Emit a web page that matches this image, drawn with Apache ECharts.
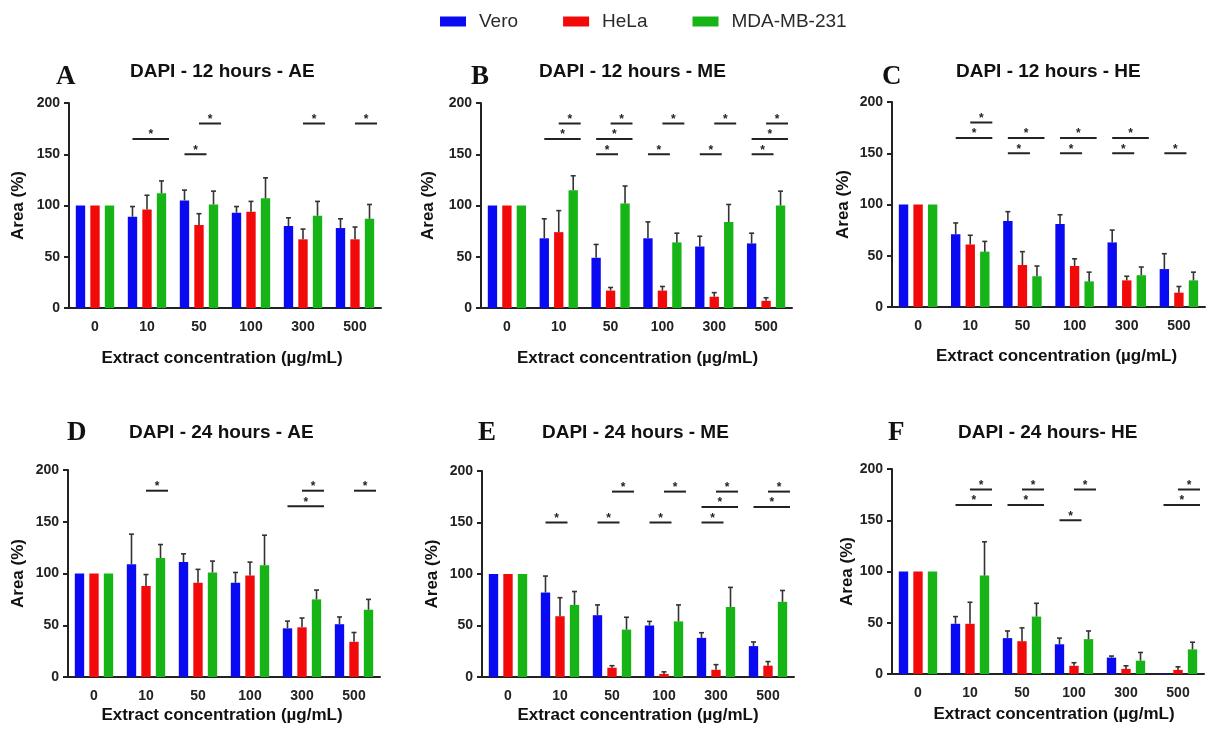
<!DOCTYPE html>
<html>
<head>
<meta charset="utf-8">
<title>DAPI area</title>
<script src="https://cdn.jsdelivr.net/npm/echarts@6/dist/echarts.min.js"></script>
<style>
html, body { margin: 0; padding: 0; background: #fff; }
#main { width: 1206px; height: 733px; }
</style>
</head>
<body>
<div id="main"></div>
<script>
// categories (extract concentration, µg/mL)
var concentrations = ['0', '10', '50', '100', '300', '500'];
var cellLines = ['Vero', 'HeLa', 'MDA-MB-231'];

// A - 12 h AE
var veroA = [100, 89, 105, 93, 80, 78];
var veroA_sd = [0, 10, 10, 6, 8, 9];
var helaA = [100, 96, 81, 94, 67, 67];
var helaA_sd = [0, 14, 11, 10, 10, 12];
var mdaA = [100, 112, 101, 107, 90, 87];
var mdaA_sd = [0, 12, 13, 20, 14, 14];

// B - 12 h ME
var veroB = [100, 68, 49, 68, 60, 63];
var veroB_sd = [0, 19, 13, 16, 10, 10];
var helaB = [100, 74, 17, 17, 11, 7];
var helaB_sd = [0, 21, 3, 4, 4, 3];
var mdaB = [100, 115, 102, 64, 84, 100];
var mdaB_sd = [0, 14, 17, 9, 17, 14];

// C - 12 h HE
var veroC = [100, 71, 84, 81, 63, 37];
var veroC_sd = [0, 11, 9, 9, 12, 15];
var helaC = [100, 61, 41, 40, 26, 14];
var helaC_sd = [0, 9, 13, 7, 4, 6];
var mdaC = [100, 54, 30, 25, 31, 26];
var mdaC_sd = [0, 10, 10, 9, 8, 8];

// D - 24 h AE
var veroD = [100, 109, 111, 91, 47, 51];
var veroD_sd = [0, 29, 8, 10, 7, 7];
var helaD = [100, 88, 91, 98, 48, 34];
var helaD_sd = [0, 11, 13, 13, 9, 9];
var mdaD = [100, 115, 101, 108, 75, 65];
var mdaD_sd = [0, 13, 11, 29, 9, 10];

// E - 24 h ME
var veroE = [100, 82, 60, 50, 38, 30];
var veroE_sd = [0, 16, 10, 4, 5, 4];
var helaE = [100, 59, 9, 3, 7, 11];
var helaE_sd = [0, 18, 2, 2, 5, 4];
var mdaE = [100, 70, 46, 54, 68, 73];
var mdaE_sd = [0, 13, 12, 16, 19, 11];

// F - 24 h HE
var veroF = [100, 49, 35, 29, 16, 0.5];
var veroF_sd = [0, 7, 7, 6, 1.5, 0];
var helaF = [100, 49, 32, 8, 5, 4];
var helaF_sd = [0, 21, 13, 3, 3, 3];
var mdaF = [100, 96, 56, 34, 13, 24];
var mdaF_sd = [0, 33, 13, 8, 8, 7];

// significance bars: [category index, from bar, to bar, height]
// bar 0 = Vero, 1 = HeLa, 2 = MDA-MB-231
var sigA = [[1, 0, 2, 165], [2, 0, 1, 150], [2, 1, 2, 180], [4, 1, 2, 180], [5, 1, 2, 180]];
var sigB = [[1, 1, 2, 180], [1, 0, 2, 165], [2, 1, 2, 180], [2, 0, 2, 165], [2, 0, 1, 150],
            [3, 1, 2, 180], [3, 0, 1, 150], [4, 1, 2, 180], [4, 0, 1, 150],
            [5, 1, 2, 180], [5, 0, 2, 165], [5, 0, 1, 150]];
var sigC = [[1, 1, 2, 180], [1, 0, 2, 165], [2, 0, 2, 165], [2, 0, 1, 150], [3, 0, 2, 165],
            [3, 0, 1, 150], [4, 0, 2, 165], [4, 0, 1, 150], [5, 0, 1, 150]];
var sigD = [[1, 1, 2, 180], [4, 1, 2, 180], [4, 0, 2, 165], [5, 1, 2, 180]];
var sigE = [[1, 0, 1, 150], [2, 1, 2, 180], [2, 0, 1, 150], [3, 1, 2, 180], [3, 0, 1, 150],
            [4, 1, 2, 180], [4, 0, 2, 165], [4, 0, 1, 150], [5, 1, 2, 180], [5, 0, 2, 165]];
var sigF = [[1, 1, 2, 180], [1, 0, 2, 165], [2, 1, 2, 180], [2, 0, 2, 165], [3, 1, 2, 180],
            [3, 0, 1, 150], [5, 1, 2, 180], [5, 0, 2, 165]];

var colors = ['#0a0af2', '#f20a0a', '#16b416'];
var BAR_W = 0.18, BAR_GAP = 0.55;
var FONT = '"Liberation Sans", Arial, sans-serif';

// panel layout (title positions already corrected for the 5px title padding)
var panels = [
  { letter: 'A', title: 'DAPI - 12 hours - AE', data: [veroA, helaA, mdaA], sd: [veroA_sd, helaA_sd, mdaA_sd], sig: sigA,
    grid: [69, 103, 312, 205], letterXY: [51, 59], titleXY: [125, 57], yGap: 42, xGap: 42, xShift: -3 },
  { letter: 'B', title: 'DAPI - 12 hours - ME', data: [veroB, helaB, mdaB], sd: [veroB_sd, helaB_sd, mdaB_sd], sig: sigB,
    grid: [481, 103, 311, 205], letterXY: [466, 59], titleXY: [534, 57], yGap: 44, xGap: 42, xShift: 1 },
  { letter: 'C', title: 'DAPI - 12 hours - HE', data: [veroC, helaC, mdaC], sd: [veroC_sd, helaC_sd, mdaC_sd], sig: sigC,
    grid: [892, 102, 313, 205], letterXY: [877, 59], titleXY: [951, 57], yGap: 40, xGap: 41, xShift: 8 },
  { letter: 'D', title: 'DAPI - 24 hours - AE', data: [veroD, helaD, mdaD], sd: [veroD_sd, helaD_sd, mdaD_sd], sig: sigD,
    grid: [68, 470, 312, 207], letterXY: [62, 415], titleXY: [124, 418], yGap: 41, xGap: 30, xShift: -2 },
  { letter: 'E', title: 'DAPI - 24 hours - ME', data: [veroE, helaE, mdaE], sd: [veroE_sd, helaE_sd, mdaE_sd], sig: sigE,
    grid: [482, 471, 312, 206], letterXY: [473, 415], titleXY: [537, 418], yGap: 41, xGap: 30, xShift: 0 },
  { letter: 'F', title: 'DAPI - 24 hours- HE', data: [veroF, helaF, mdaF], sd: [veroF_sd, helaF_sd, mdaF_sd], sig: sigF,
    grid: [892, 469, 312, 205], letterXY: [883, 415], titleXY: [953, 418], yGap: 35, xGap: 32, xShift: 6 }
];

function barOffset(api, k) {
  var band = api.size([1, 0])[0];
  return (k - 1) * band * BAR_W * (1 + BAR_GAP);
}

// error bar (upper whisker only)
function renderError(params, api) {
  var c = api.value(0), k = api.value(3);
  var base = api.coord([c, api.value(1)]);
  var top = api.coord([c, api.value(2)]);
  var x = base[0] + barOffset(api, k);
  var st = { stroke: '#333', lineWidth: 1.6 };
  return { type: 'group', children: [
    { type: 'line', shape: { x1: x, y1: base[1], x2: x, y2: top[1] }, style: st },
    { type: 'line', shape: { x1: x - 2.5, y1: top[1], x2: x + 2.5, y2: top[1] }, style: st }
  ] };
}

// significance line with star
function renderSig(params, api) {
  var c = api.value(0);
  var band = api.size([1, 0])[0];
  var p = api.coord([c, api.value(3)]);
  var x1 = p[0] + barOffset(api, api.value(1));
  var x2 = p[0] + barOffset(api, api.value(2)) + band * BAR_W * 0.8;
  return { type: 'group', children: [
    { type: 'line', shape: { x1: x1, y1: p[1], x2: x2, y2: p[1] }, style: { stroke: '#222', lineWidth: 2 } },
    { type: 'text', x: (x1 + x2) / 2, y: p[1] - 4,
      style: { text: '*', fill: '#222', font: 'bold 12px ' + FONT, textAlign: 'center', textVerticalAlign: 'middle' } }
  ] };
}

var titles = [], grids = [], xAxes = [], yAxes = [], series = [];

panels.forEach(function (p, i) {
  titles.push({ text: p.letter, left: p.letterXY[0], top: p.letterXY[1],
    textStyle: { fontFamily: '"Liberation Serif", "Times New Roman", serif', fontSize: 27, fontWeight: 'bold', color: '#111' } });
  titles.push({ text: p.title, left: p.titleXY[0], top: p.titleXY[1],
    textStyle: { fontFamily: FONT, fontSize: 19, fontWeight: 'bold', color: '#111' } });

  grids.push({ left: p.grid[0], top: p.grid[1], width: p.grid[2], height: p.grid[3] });

  // shift the centred axis name sideways with asymmetric padding
  var sh = p.xShift * 2;
  xAxes.push({
    gridIndex: i, type: 'category', data: concentrations,
    name: 'Extract concentration (µg/mL)', nameLocation: 'middle', nameGap: p.xGap,
    nameTextStyle: { fontFamily: FONT, fontSize: 17, fontWeight: 'bold', color: '#111',
      padding: [0, sh < 0 ? -sh : 0, 0, sh > 0 ? sh : 0] },
    axisLine: { lineStyle: { color: '#222', width: 2 } },
    axisTick: { alignWithLabel: true, length: 5, lineStyle: { color: '#222', width: 2 } },
    axisLabel: { margin: 12, fontFamily: FONT, fontSize: 14, fontWeight: 'bold', color: '#222' }
  });

  yAxes.push({
    gridIndex: i, type: 'value', min: 0, max: 200, interval: 50,
    name: 'Area (%)', nameLocation: 'middle', nameGap: p.yGap,
    nameTextStyle: { fontFamily: FONT, fontSize: 17, fontWeight: 'bold', color: '#111' },
    axisLine: { show: true, lineStyle: { color: '#222', width: 2 } },
    axisTick: { show: true, length: 5, lineStyle: { color: '#222', width: 2 } },
    axisLabel: { margin: 9, fontFamily: FONT, fontSize: 14, fontWeight: 'bold', color: '#222' },
    splitLine: { show: false }
  });

  var errData = [];
  p.data.forEach(function (vals, k) {
    series.push({
      name: cellLines[k], type: 'bar', xAxisIndex: i, yAxisIndex: i, data: vals,
      barWidth: (BAR_W * 100) + '%', barGap: (BAR_GAP * 100) + '%',
      itemStyle: { color: colors[k] }, silent: true
    });
    vals.forEach(function (v, c) {
      if (p.sd[k][c] > 0) errData.push([c, v, v + p.sd[k][c], k]);
    });
  });

  series.push({ type: 'custom', xAxisIndex: i, yAxisIndex: i, data: errData,
    encode: { x: 0, y: 2 }, renderItem: renderError, silent: true, z: 3 });
  series.push({ type: 'custom', xAxisIndex: i, yAxisIndex: i, data: p.sig,
    encode: { x: 0, y: 3 }, renderItem: renderSig, silent: true, z: 4 });
});

var myChart = echarts.init(document.getElementById('main'));
myChart.setOption({
  animation: false,
  backgroundColor: '#fff',
  title: titles,
  legend: {
    data: cellLines, left: 435, top: 7, icon: 'rect',
    itemWidth: 26, itemHeight: 10, itemGap: 45,
    textStyle: { fontFamily: FONT, fontSize: 19, color: '#2a2a2a', padding: [0, 0, 0, 8] }
  },
  grid: grids,
  xAxis: xAxes,
  yAxis: yAxes,
  series: series
});
</script>
</body>
</html>
